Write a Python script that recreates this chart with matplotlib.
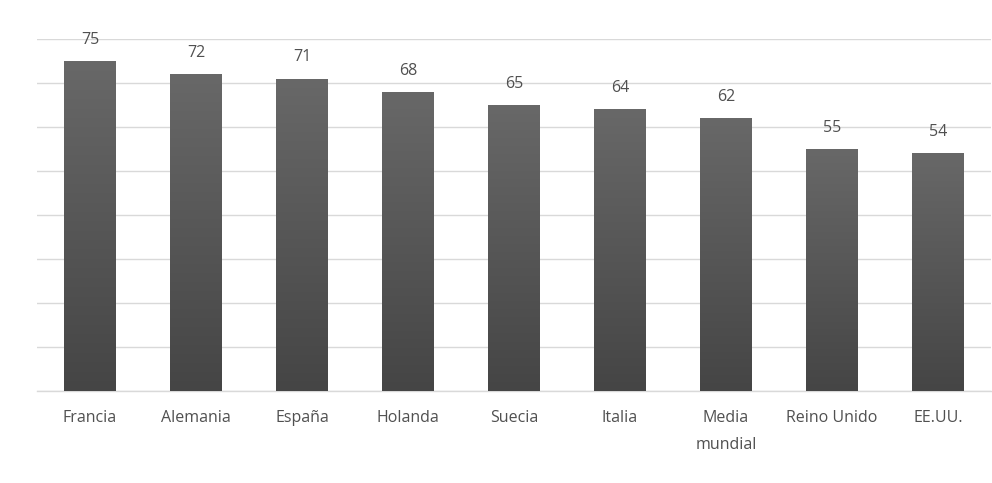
import numpy as np
import matplotlib
matplotlib.use("Agg")
import matplotlib.pyplot as plt
from matplotlib.colors import LinearSegmentedColormap

categories = ["Francia", "Alemania", "España", "Holanda", "Suecia", "Italia",
              "Media\nmundial", "Reino Unido", "EE.UU."]
values = [75, 72, 71, 68, 65, 64, 62, 55, 54]
yticks = list(range(0, 81, 10))

plt.rcParams['font.family'] = ['Open Sans', 'DejaVu Sans']

fig = plt.figure(figsize=(9.92, 4.83), dpi=100)
fig.patch.set_facecolor("white")
W, H = 992, 483
ax = fig.add_axes([37 / W, (H - 391) / H, (991 - 37) / W, (391 - 39) / H])
ax.set_facecolor("white")

x = np.arange(len(categories))
bars = ax.bar(x, values, width=0.49, color="#555555", zorder=3)

cmap = LinearSegmentedColormap.from_list("g", ["#454545", "#686868"])
grad = np.linspace(0, 1, 256).reshape(-1, 1)
for b in bars:
    x0, w, h = b.get_x(), b.get_width(), b.get_height()
    im = ax.imshow(grad, cmap=cmap, aspect="auto", origin="lower",
                   extent=[x0, x0 + w, 0, h], zorder=4)
    im.set_clip_path(b)

ax.set_xlim(-0.5, len(categories) - 0.5)
ax.set_ylim(0, 80)
ax.set_yticks(yticks)
ax.yaxis.grid(True, color="#d9d9d9", linewidth=1.0, zorder=0)
ax.set_axisbelow(True)
ax.tick_params(axis="y", left=False, labelleft=False)
ax.tick_params(axis="x", bottom=False, pad=10.5, labelsize=11.5, labelcolor="#505050")
ax.set_xticks(x)
ax.set_xticklabels(categories, va="top", linespacing=1.85)
for s in ["top", "right", "left"]:
    ax.spines[s].set_visible(False)
ax.spines["bottom"].set_color("#d9d9d9")
ax.spines["bottom"].set_linewidth(1.0)

for xi, v in zip(x, values):
    ax.annotate(f"{v}", (xi, v), xytext=(0, 9.5), textcoords="offset points",
                ha="center", va="bottom", fontsize=11.5, color="#505050",
                annotation_clip=False)

fig.savefig("out.png", dpi=100)
